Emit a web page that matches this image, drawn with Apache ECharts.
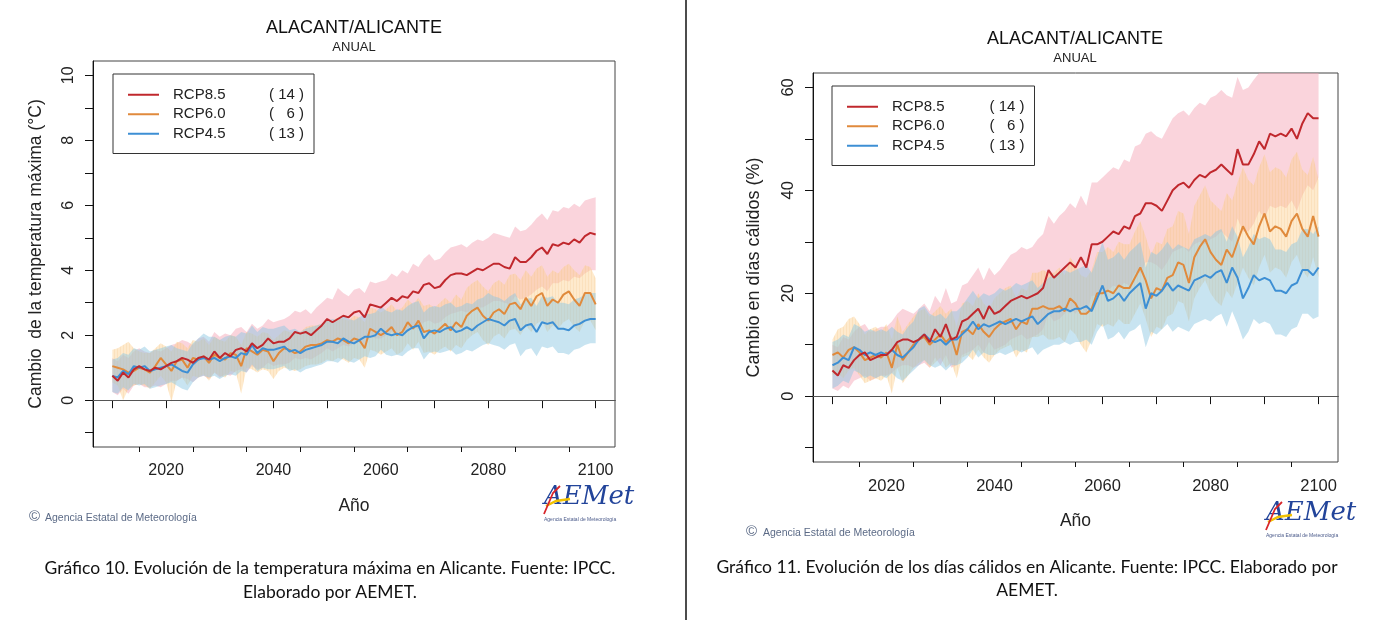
<!DOCTYPE html>
<html>
<head>
<meta charset="utf-8">
<script src="https://cdn.jsdelivr.net/npm/echarts@6/dist/echarts.min.js"></script>
<style>
html,body{margin:0;padding:0;background:#fff;}
#main{width:1374px;height:620px;}
</style>
</head>
<body>
<div id="main"></div>
<script>
// ---------- DATA ----------
const startYear = 2010;
const seriesNames = ['RCP8.5', 'RCP6.0', 'RCP4.5'];
const modelCounts = ['14', '6', '13'];
const xTickYears = [2010, 2020, 2030, 2040, 2050, 2060, 2070, 2080, 2090, 2100];
const xMinorTickYears = [2015, 2025, 2035, 2045, 2055, 2065, 2075, 2085, 2095];
const xLabelYears = [2020, 2040, 2060, 2080, 2100];
const tempTicks = [-1, 0, 1, 2, 3, 4, 5, 6, 7, 8, 9, 10];
const tempLabels = [0, 2, 4, 6, 8, 10];
const daysTicks = [-10, 0, 10, 20, 30, 40, 50, 60];
const daysLabels = [0, 20, 40, 60];

// Chart 10: max temperature change (°C)
const temp85 = [0.75,0.6,0.85,0.7,0.95,1.05,0.95,0.9,1.0,0.95,
  1.05,1.15,1.2,1.3,1.25,1.15,1.3,1.35,1.25,1.5,
  1.3,1.45,1.35,1.55,1.6,1.5,1.75,1.6,1.7,1.9,
  1.75,1.8,1.8,1.9,2.1,2.05,2.1,2.0,2.15,2.3,
  2.5,2.4,2.5,2.6,2.55,2.7,2.75,2.55,2.95,2.9,
  2.85,3.0,3.15,3.05,3.2,3.15,3.35,3.3,3.55,3.6,
  3.45,3.5,3.7,3.85,3.9,3.9,3.85,3.95,4.05,4.0,
  4.1,4.2,4.2,4.1,4.05,4.4,4.25,4.25,4.4,4.6,
  4.7,4.5,4.8,4.75,4.85,4.8,4.95,4.85,5.05,5.15,
  5.1];
const temp85Hi = [1.3,1.2,1.4,1.3,1.5,1.6,1.5,1.45,1.55,1.5,
  1.6,1.7,1.75,1.85,1.8,1.7,1.9,1.95,1.8,2.1,
  1.95,2.05,2.0,2.2,2.25,2.1,2.35,2.2,2.3,2.5,
  2.4,2.45,2.5,2.6,2.75,2.7,2.8,2.65,2.85,3.0,
  3.15,3.1,3.45,3.3,3.2,3.4,3.45,3.3,3.65,3.6,
  3.65,3.7,3.9,3.8,4.0,3.9,4.2,4.1,4.35,4.5,
  4.3,4.35,4.55,4.7,4.75,4.8,4.7,4.85,4.95,4.9,
  5.0,5.15,5.1,5.05,5.0,5.35,5.2,5.25,5.4,5.6,
  5.75,5.55,5.85,5.8,5.95,5.9,6.05,5.95,6.15,6.2,
  6.25];
const temp85Lo = [0.25,0.15,0.35,0.2,0.45,0.5,0.4,0.4,0.45,0.4,
  0.5,0.6,0.6,0.7,0.65,0.55,0.7,0.75,0.65,0.85,
  0.7,0.8,0.75,0.9,0.95,0.85,1.05,0.95,1.0,1.15,
  1.05,1.1,1.1,1.15,1.3,1.25,1.3,1.25,1.35,1.45,
  1.6,1.5,1.6,1.7,1.65,1.75,1.8,1.65,1.95,1.9,
  1.9,2.0,2.1,2.05,2.15,2.1,2.25,2.2,2.4,2.45,
  2.35,2.4,2.55,2.65,2.7,2.75,2.7,2.8,2.85,2.85,
  2.95,3.05,3.05,3.0,2.95,3.2,3.1,3.15,3.25,3.4,
  3.5,3.35,3.6,3.6,3.7,3.65,3.8,3.75,3.9,4.0,
  4.0];
const temp60 = [1.05,1.0,0.95,0.85,0.9,1.0,0.95,0.85,1.05,1.3,
  1.1,0.9,1.2,1.25,1.0,1.3,1.25,1.35,1.15,1.4,
  1.3,1.25,1.45,1.4,1.05,1.6,1.5,1.4,1.55,1.5,
  1.2,1.45,1.6,1.55,1.45,1.5,1.65,1.7,1.7,1.75,
  1.85,1.8,1.9,1.85,1.75,1.9,1.85,1.6,2.2,2.1,
  2.0,2.1,2.25,2.0,2.1,2.4,2.2,2.45,2.1,2.15,
  2.05,2.2,2.35,2.15,2.4,2.25,2.6,2.75,2.85,2.6,
  2.45,2.7,2.8,2.65,2.95,3.0,2.8,3.15,2.9,3.2,
  3.3,2.9,3.1,3.0,3.25,3.35,3.1,2.9,3.3,3.3,
  2.95];
const temp60Hi = [1.55,1.6,1.7,1.8,1.6,1.5,1.45,1.45,1.6,1.75,
  1.65,1.5,1.8,1.75,1.6,1.85,1.8,1.9,1.7,1.95,
  1.85,1.8,2.0,1.95,1.7,2.1,2.05,1.95,2.1,2.05,
  1.85,2.0,2.15,2.1,2.05,2.1,2.25,2.3,2.3,2.35,
  2.45,2.45,2.55,2.5,2.45,2.6,2.55,2.4,2.85,2.8,
  2.7,2.8,2.95,2.75,2.85,3.1,2.95,3.15,2.9,2.95,
  2.85,3.0,3.15,3.0,3.25,3.1,3.45,3.6,3.7,3.5,
  3.35,3.6,3.7,3.55,3.85,3.9,3.7,4.0,3.8,4.05,
  4.15,3.8,4.0,3.9,4.1,4.2,4.0,3.85,4.15,4.1,
  3.75];
const temp60Lo = [0.55,0.45,0.0,0.35,0.45,0.5,0.45,0.35,0.55,0.75,
  0.55,-0.05,0.6,0.7,0.45,0.75,0.7,0.8,0.6,0.85,
  0.75,0.7,0.9,0.85,0.2,1.0,0.95,0.85,0.95,0.9,
  0.65,0.9,1.0,0.95,0.9,0.95,1.05,1.1,1.1,1.15,
  1.25,1.2,1.3,1.25,1.15,1.3,1.25,1.0,1.55,1.5,
  1.4,1.5,1.6,1.4,1.5,1.75,1.55,1.8,1.45,1.5,
  1.4,1.55,1.65,1.5,1.7,1.6,1.85,2.0,2.1,1.85,
  1.7,1.95,2.05,1.9,2.15,2.2,2.0,2.3,2.1,2.35,
  2.45,2.1,2.3,2.2,2.4,2.5,2.25,2.1,2.45,2.45,
  2.15];
const temp45 = [0.75,0.7,0.9,0.8,1.05,1.0,1.05,0.9,0.95,1.0,
  1.05,1.1,1.0,0.9,0.85,1.1,1.25,1.3,1.25,1.3,
  1.2,1.3,1.35,1.3,1.45,1.4,1.7,1.45,1.6,1.55,
  1.55,1.6,1.65,1.5,1.55,1.45,1.55,1.6,1.65,1.7,
  1.8,1.8,1.75,1.9,1.8,1.75,1.85,1.95,1.95,2.0,
  2.2,2.05,2.0,2.05,2.0,2.15,2.25,2.3,1.9,2.1,
  2.15,2.1,2.2,2.25,2.1,2.15,2.25,2.15,2.3,2.4,
  2.5,2.45,2.4,2.3,2.45,2.5,2.15,2.3,2.35,2.1,
  2.4,2.35,2.4,2.2,2.2,2.15,2.3,2.35,2.45,2.5,
  2.5];
const temp45Hi = [1.25,1.3,1.45,1.4,1.6,1.55,1.65,1.5,1.55,1.6,
  1.65,1.7,1.6,1.55,1.5,1.75,1.9,2.05,1.95,1.95,
  1.85,1.95,2.0,1.95,2.1,2.05,2.3,2.1,2.25,2.2,
  2.2,2.25,2.3,2.15,2.2,2.1,2.2,2.25,2.3,2.35,
  2.45,2.5,2.45,2.6,2.5,2.45,2.55,2.65,2.65,2.7,
  2.9,2.75,2.7,2.8,2.75,2.9,3.0,3.05,2.7,2.85,
  2.9,2.85,2.95,3.0,2.85,2.9,3.0,2.95,3.1,3.15,
  3.3,3.2,3.15,3.05,3.2,3.3,2.95,3.1,3.15,2.9,
  3.2,3.15,3.2,3.0,3.0,2.95,3.1,3.15,3.25,3.3,
  3.3];
const temp45Lo = [0.25,0.2,0.4,0.3,0.5,0.45,0.5,0.35,0.4,0.45,
  0.5,0.55,0.45,0.35,0.3,0.55,0.7,0.75,0.7,0.75,
  0.65,0.75,0.8,0.75,0.9,0.85,1.1,0.9,1.0,0.95,
  0.95,1.0,1.05,0.9,0.95,0.85,0.95,1.0,1.05,1.1,
  1.2,1.2,1.15,1.3,1.2,1.15,1.25,1.35,1.3,1.35,
  1.55,1.4,1.35,1.4,1.35,1.5,1.6,1.6,1.25,1.45,
  1.5,1.45,1.5,1.55,1.4,1.45,1.55,1.5,1.6,1.7,
  1.75,1.7,1.65,1.55,1.7,1.75,1.35,1.55,1.6,1.35,
  1.65,1.6,1.65,1.45,1.45,1.4,1.55,1.6,1.7,1.75,
  1.75];

// Chart 11: warm days change (%)
const days85 = [5,4,6,5.5,7,8,8.5,7,7.5,8,
  8,9,10.5,11,11,10.5,11,12,10.5,13,
  11.5,14,11,11.5,14.5,15,16,17,15,17.5,
  16,16.5,17.5,18.5,19,19.5,19,19.5,20,21,
  24.5,23,24,25,26,25,27,25,29.5,29.5,
  30,31,32,31.5,33,32.5,35,35.5,37.5,37.5,
  37,36,38,40,41,41.5,40.5,42,43,42.5,
  43.5,44,45,44,43,48,45,45,47,49.5,
  48,51,50.5,51,50.5,52,50,53,55,54,
  54];
const days85Hi = [10,9.5,11.5,11,12.5,13.5,14,12.5,13,13.5,
  13.5,14.5,16,17,16.5,16,17,18,16.5,19.5,
  18,21,18,18.5,21.5,22,23.5,25,22.5,25,
  23.5,24.5,26,27.5,28,29,28.5,29,30.5,31.5,
  35,33.5,35,36,37.5,36.5,39,37,41.5,41.5,
  42.5,43.5,44.5,44,46,45.5,48.5,49,51,51.5,
  50.5,50,52,54,55,55.5,54.5,56,57,56.5,
  58,58.5,59.5,58.5,58,62,59.5,60,61.5,64,
  63,65,65,66,65.5,67,65,68,70,69,
  69];
const days85Lo = [1.5,1,2,1.5,3,3.5,4,3,3.5,4,
  4,4.5,5.5,6,6,5.5,6,6.5,5.5,7.5,
  6,8,5.5,6,8,8.5,9,10,8.5,10.5,
  9,9.5,10,11,11.5,12,11,11.5,12,13,
  16,14.5,15,16,17,16,17.5,16,19.5,19.5,
  20,20.5,21.5,21,22,21.5,24,24,26,26,
  25.5,24.5,26,28,28.5,29,28,29.5,30,29.5,
  30.5,31,32,31,30,34.5,32,32,33.5,36,
  34.5,37,36.5,37,36.5,38,36,39,41,40,
  42.5];
const days60 = [8,8.5,7.5,9,9.5,8.5,7,7.5,8,7.5,
  8.5,5.5,10,7,8.5,10,11,11.5,10,11,
  12,10.5,11.5,8,12.5,13,12,14,12.5,11.5,
  13,14,14.5,15,13,14.5,14,17,17,17.5,
  17,17,17.5,16.5,19,18,16,16,17,20,
  20,20.5,20,21.5,21,21,23,25,22.5,19,
  21,20.5,23,23.5,26,25.5,22,27,29,30.5,
  28,26.5,25.5,28.5,27,30,33,31,29.5,33,
  35.5,32,33,32.5,31,34,35.5,32.5,31,35,
  31];
const days60Hi = [11,13,13.5,15,15.5,14,12,13,13.5,12.5,
  14,11,15.5,12.5,14,15.5,16.5,17,15.5,16.5,
  17.5,16,17,13.5,18,18.5,17.5,20,18,17,
  19,20,21,21.5,19,21,20.5,24,24,24.5,
  24,24,25,23.5,27,25.5,23.5,23,24.5,28,
  28,29,28,30,29.5,29.5,32,34,31,27.5,
  30,29.5,32.5,33,36,35.5,31.5,37,39,41,
  38,37,36,39.5,38,41.5,44.5,42,41,44.5,
  47,43.5,44.5,44,42.5,46,47.5,44,43,46.5,
  42];
const days60Lo = [4,4.5,3.5,5,5.5,4,2.5,3,3.5,3,
  4,0.5,5.5,2.5,4,5.5,6.5,7,5.5,6.5,
  7.5,5.5,6.5,3.5,7.5,8,7,9,7.5,6.5,
  8,9,9.5,10,7.5,9,8.5,11.5,11.5,12,
  11,11,11.5,10.5,13,12,10,8.5,11,14,
  13.5,14,13.5,15,14,14,16,18,15,11.5,
  13.5,13,15.5,16,18.5,18,14.5,19,21,22.5,
  20,18.5,17.5,20.5,19,22,25,23,21.5,25,
  27.5,24,25,24.5,23,26,27.5,24.5,23,27,
  23];
const days45 = [6,6.5,7.5,7,9.5,9,8,8.5,8,8.5,
  8,9,8,7.5,8.5,9.5,11,12,11,10.5,
  11,10,11,11,12,13,14.5,13,14,13.5,
  14,14.5,14,14.5,15,14.5,15,15.5,14,15,
  16,16.5,16.5,17,16.5,17,17,17.5,16.5,19,
  21.5,18.5,19,20,18.5,20,21,22,17,20,
  19.5,20.5,22,20.5,21.5,21,20.5,22.5,23,23.5,
  23,24,24.5,22,25,23,19,21,23.5,22.5,
  23,22.5,20.5,20.5,20,21.5,22,24.5,24.5,23.5,
  25];
const days45Hi = [10.5,11,12,11.5,14,13.5,12.5,13,12.5,13,
  12.5,13.5,12.5,12,13.5,14.5,17,17.5,16,15.5,
  16,15,16.5,16.5,17.5,19,20.5,19,20,19.5,
  20,21,20.5,21,22,21.5,22,22.5,21,22,
  23,23.5,24,24.5,24,24.5,25,25.5,24,27,
  30,26.5,27,28,26.5,28,29,30,25,28,
  27.5,28.5,30,28.5,29.5,29,28.5,30.5,31,31.5,
  31,32,32.5,30,33,31,27,29,31.5,30.5,
  31,30.5,28.5,28.5,28,29.5,30,32.5,32.5,31.5,
  33];
const days45Lo = [1.5,2,3,2.5,5,4.5,3.5,4,3.5,4,
  3.5,4.5,3.5,3,4,5,6,7,6,5.5,
  6,5,6,6,6.5,7.5,9,7.5,8.5,8,
  8,8.5,8,8.5,9,8.5,9,9.5,8,9,
  9.5,10,10,10.5,10,10.5,10.5,11,10,12.5,
  14,11,11.5,12.5,11,12.5,13,14,9.5,12.5,
  12,13,14,12.5,13.5,13,12.5,14,14.5,15,
  14.5,15.5,16,13.5,16.5,14,11,12.5,15,14,
  14.5,14,12,12,11.5,13,13.5,16,16,15,
  15.5];

const years = temp85.map((_, i) => startYear + i);

// ---------- STYLE ----------
const lineColors = ['#c0282d', '#e08a3c', '#3d8fd4'];
const FONT = 'Liberation Sans';

function makeHatch() {
  const c = document.createElement('canvas');
  c.width = 3; c.height = 8;
  const ctx = c.getContext('2d');
  ctx.fillStyle = 'rgba(253,208,145,0.45)';
  ctx.fillRect(0, 0, 3, 8);
  ctx.fillStyle = 'rgba(240,185,115,0.18)';
  ctx.fillRect(0, 0, 1, 8);
  return c;
}
const hatch = makeHatch();
const bandFills = [
  'rgba(244,165,182,0.48)',
  { image: hatch, repeat: 'repeat' },
  'rgba(140,198,225,0.48)'
];

function band(name, gi, lo, hi, fill) {
  return {
    type: 'custom', name: name, xAxisIndex: gi, yAxisIndex: gi, silent: true, z: 1,
    data: years.map((y, i) => [y, lo[i], hi[i]]),
    renderItem: function (params, api) {
      if (params.dataIndex !== 0) return null;
      const pts = [];
      for (let i = 0; i < years.length; i++) pts.push(api.coord([years[i], hi[i]]));
      for (let i = years.length - 1; i >= 0; i--) pts.push(api.coord([years[i], lo[i]]));
      const cs = params.coordSys;
      return {
        type: 'polygon',
        shape: { points: echarts.graphic.clipPointsByRect(pts, { x: cs.x, y: cs.y, width: cs.width, height: cs.height }) },
        style: { fill: fill }
      };
    }
  };
}
function line(name, gi, vals, color, withZero) {
  const s = {
    type: 'line', name: name, xAxisIndex: gi, yAxisIndex: gi, z: 3,
    data: years.map((y, i) => [y, vals[i]]),
    showSymbol: false, symbol: 'none', animation: false,
    lineStyle: { color: color, width: 2 }, itemStyle: { color: color }
  };
  if (withZero) {
    s.markLine = { silent: true, symbol: 'none', label: { show: false },
      lineStyle: { color: '#555', width: 1, type: 'solid' }, data: [{ yAxis: 0 }] };
  }
  return s;
}

function legendFor(left, top, nameW) {
  return {
    left: left, top: top, orient: 'vertical', selectedMode: false,
    data: seriesNames.map((n, i) => ({ name: n, itemStyle: { color: lineColors[i] } })),
    icon: 'rect', itemWidth: 31, itemHeight: 2, itemGap: 0,
    padding: [11, 10, 10, 15], borderColor: '#333', borderWidth: 1,
    formatter: function (name) {
      const k = seriesNames.indexOf(name);
      const cnt = modelCounts[k];
      const pad = cnt.length === 1 ? '   ' : ' ';
      return '{n|' + name + '}{c|(' + pad + cnt + ' )}';
    },
    textStyle: {
      fontFamily: FONT, fontSize: 15, color: '#222', lineHeight: 19.5,
      rich: {
        n: { width: nameW, padding: [0, 0, 0, 9], fontFamily: FONT, fontSize: 15, color: '#222' },
        c: { fontFamily: FONT, fontSize: 15, color: '#222' }
      }
    }
  };
}

const axisText = { fontFamily: FONT, color: '#222' };

function xAx(gi, fs, nameGap) {
  return {
    type: 'value', gridIndex: gi, min: 2006.4, max: 2103.6, position: 'bottom',
    name: 'Año', nameLocation: 'middle', nameGap: nameGap,
    nameTextStyle: { fontFamily: FONT, fontSize: 17.5, color: '#222' },
    axisLine: { show: true, lineStyle: { color: '#111', width: 1 } },
    axisTick: { show: true, length: 8, customValues: xTickYears, lineStyle: { color: '#111' } },
    axisLabel: Object.assign({ show: true, fontSize: fs, margin: 16, customValues: xLabelYears,
      formatter: function (v) { return String(Math.round(v)); } }, axisText),
    splitLine: { show: false }
  };
}
function xMinor(gi) {
  return {
    type: 'value', gridIndex: gi, min: 2006.4, max: 2103.6, position: 'bottom', offset: 0,
    axisLine: { show: false },
    axisTick: { show: true, length: 5, customValues: xMinorTickYears, lineStyle: { color: '#111' } },
    axisLabel: { show: false }, splitLine: { show: false }
  };
}
function yAx(gi, min, max, ticks, labels, name, fs, nameGap, nameFs) {
  return {
    type: 'value', gridIndex: gi, min: min, max: max,
    name: name, nameLocation: 'middle', nameGap: nameGap, nameRotate: 90,
    nameTextStyle: { fontFamily: FONT, fontSize: nameFs, color: '#222' },
    axisLine: { show: true, lineStyle: { color: '#111', width: 1 } },
    axisTick: { show: true, length: 8, customValues: ticks, lineStyle: { color: '#111' } },
    axisLabel: Object.assign({ show: true, rotate: 90, fontSize: fs, margin: 16, customValues: labels }, axisText),
    splitLine: { show: false }
  };
}

function logo(x, y) {
  return {
    type: 'group', x: x, y: y, silent: true,
    children: [
      { type: 'text', x: 0, y: 0, style: { text: 'AEMet', font: 'italic 26px "DejaVu Serif"', fill: '#22449a' } },
      { type: 'polyline', shape: { points: [[2, 22], [12, 17], [26, 15]] }, style: { stroke: '#f2c200', lineWidth: 2.5, fill: null } },
      { type: 'polyline', shape: { points: [[0, 30], [9, 9], [16, 2]] }, style: { stroke: '#d8262b', lineWidth: 1.8, fill: null } },
      { type: 'text', x: 0, y: 33, style: { text: 'Agencia Estatal de Meteorología', font: '5px "Liberation Sans"', fill: '#4a5a8a' } }
    ]
  };
}

const option = {
  animation: false,
  backgroundColor: '#fff',
  title: [
    { text: 'ALACANT/ALICANTE', subtext: 'ANUAL', left: 354, top: 19, textAlign: 'center', padding: 0, itemGap: 4,
      textStyle: { fontFamily: FONT, fontSize: 18, fontWeight: 'normal', color: '#111' },
      subtextStyle: { fontFamily: FONT, fontSize: 13, color: '#222' } },
    { text: 'ALACANT/ALICANTE', subtext: 'ANUAL', left: 1075, top: 30, textAlign: 'center', padding: 0, itemGap: 4,
      textStyle: { fontFamily: FONT, fontSize: 18, fontWeight: 'normal', color: '#111' },
      subtextStyle: { fontFamily: FONT, fontSize: 13, color: '#222' } }
  ],
  legend: [legendFor(113, 74, 96), legendFor(832, 86, 97.5)],
  grid: [
    { left: 93, top: 61, width: 522, height: 386, show: true, borderColor: '#444', borderWidth: 1, containLabel: false },
    { left: 813, top: 73, width: 525, height: 389, show: true, borderColor: '#444', borderWidth: 1, containLabel: false }
  ],
  xAxis: [xAx(0, 16, 50), xAx(1, 16.5, 50), xMinor(0), xMinor(1)],
  yAxis: [
    yAx(0, -1.44, 10.44, tempTicks, tempLabels, 'Cambio  de la temperatura máxima (°C)', 16, 48, 17.5),
    yAx(1, -12.8, 62.8, daysTicks, daysLabels, 'Cambio en días cálidos (%)', 16.5, 50, 18)
  ],
  series: [
    band('b85a', 0, temp85Lo, temp85Hi, bandFills[0]),
    band('b60a', 0, temp60Lo, temp60Hi, bandFills[1]),
    band('b45a', 0, temp45Lo, temp45Hi, bandFills[2]),
    line('RCP6.0', 0, temp60, lineColors[1], true),
    line('RCP4.5', 0, temp45, lineColors[2], false),
    line('RCP8.5', 0, temp85, lineColors[0], false),
    band('b85b', 1, days85Lo, days85Hi, bandFills[0]),
    band('b60b', 1, days60Lo, days60Hi, bandFills[1]),
    band('b45b', 1, days45Lo, days45Hi, bandFills[2]),
    line('RCP6.0', 1, days60, lineColors[1], true),
    line('RCP4.5', 1, days45, lineColors[2], false),
    line('RCP8.5', 1, days85, lineColors[0], false)
  ],
  graphic: [
    { type: 'line', silent: true, shape: { x1: 686, y1: 0, x2: 686, y2: 620 }, style: { stroke: '#111', lineWidth: 1.5 } },
    { type: 'text', silent: true, x: 29, y: 509, style: { text: '©', font: '15px "Liberation Sans"', fill: '#5b6a86' } },
    { type: 'text', silent: true, x: 45, y: 513, style: { text: 'Agencia Estatal de Meteorología', font: '10.5px "Liberation Sans"', fill: '#5b6a86' } },
    { type: 'text', silent: true, x: 746, y: 524, style: { text: '©', font: '15px "Liberation Sans"', fill: '#5b6a86' } },
    { type: 'text', silent: true, x: 763, y: 528, style: { text: 'Agencia Estatal de Meteorología', font: '10.5px "Liberation Sans"', fill: '#5b6a86' } },
    logo(544, 484),
    logo(1266, 500),
    { type: 'text', silent: true, x: 330, y: 568, style: { text: 'Gráfico 10. Evolución de la temperatura máxima en Alicante. Fuente: IPCC.', font: '17.5px Lato', fill: '#111', align: 'center', verticalAlign: 'middle' } },
    { type: 'text', silent: true, x: 330, y: 592, style: { text: 'Elaborado por AEMET.', font: '17.5px Lato', fill: '#111', align: 'center', verticalAlign: 'middle' } },
    { type: 'text', silent: true, x: 1027, y: 567, style: { text: 'Gráfico 11. Evolución de los días cálidos en Alicante. Fuente: IPCC. Elaborado por', font: '17.5px Lato', fill: '#111', align: 'center', verticalAlign: 'middle' } },
    { type: 'text', silent: true, x: 1027, y: 590, style: { text: 'AEMET.', font: '17.5px Lato', fill: '#111', align: 'center', verticalAlign: 'middle' } }
  ]
};

const chart = echarts.init(document.getElementById('main'), null, { renderer: 'canvas' });
chart.setOption(option);
</script>
</body>
</html>
